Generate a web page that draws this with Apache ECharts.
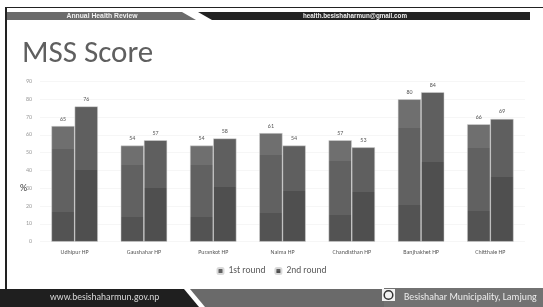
<!DOCTYPE html>
<html>
<head>
<meta charset="utf-8">
<script src="https://cdn.jsdelivr.net/npm/echarts@6/dist/echarts.min.js"></script>
<style>
  html, body { margin: 0; padding: 0; background: #fff; }
  #chart { width: 543px; height: 307px; }
</style>
</head>
<body>
<div id="chart"></div>
<script>
// chart values
const categories = ['Udhipur HP', 'Gaushahar HP', 'Purankot HP', 'Naima HP', 'Chandisthan HP', 'Banjhakhet HP', 'Chitthale HP']
const round1 = [65, 54, 54, 61, 57, 80, 66]
const round2 = [76, 57, 58, 54, 53, 84, 69]
const seriesNames = ['1st round', '2nd round']

const chart = echarts.init(document.getElementById('chart'))

// bars carry a banded fill, like the slide's picture fill
const fill1 = {
    type: 'linear', x: 0, y: 0, x2: 0, y2: 1,
    colorStops: [
        { offset: 0, color: '#6f6f6f' }, { offset: 0.2, color: '#6f6f6f' },
        { offset: 0.2, color: '#616161' }, { offset: 0.74, color: '#616161' },
        { offset: 0.74, color: '#535353' }, { offset: 1, color: '#535353' }
    ]
}
const fill2 = {
    type: 'linear', x: 0, y: 0, x2: 0, y2: 1,
    colorStops: [
        { offset: 0, color: '#5f5f5f' }, { offset: 0.47, color: '#5f5f5f' },
        { offset: 0.47, color: '#4f4f4f' }, { offset: 1, color: '#4f4f4f' }
    ]
}

const font = 'Calibri, Carlito, "Open Sans", sans-serif'

chart.setOption({
    animation: false,
    textStyle: { fontFamily: font },
    grid: { left: 40, right: 18, top: 81.5, bottom: 65.3 },
    legend: {
        data: seriesNames,
        bottom: 26,
        itemWidth: 6,
        itemHeight: 6,
        itemGap: 9,
        textStyle: { fontSize: 9.5, color: '#595959', fontFamily: font }
    },
    xAxis: {
        type: 'category',
        data: categories,
        axisLine: { show: false },
        axisTick: { show: false },
        axisLabel: { fontSize: 6, color: '#595959', margin: 8 }
    },
    yAxis: {
        type: 'value',
        min: 0,
        max: 90,
        interval: 10,
        axisLabel: { fontSize: 6, color: '#9a9a9a', margin: 8 },
        splitLine: { lineStyle: { color: '#f0f0f0', width: 0.6 } }
    },
    series: [
        {
            name: seriesNames[0], type: 'bar', data: round1,
            barGap: '0%', barCategoryGap: '33%',
            itemStyle: { color: fill1, borderColor: '#d9d9d9', borderWidth: 0.5 },
            label: { show: true, position: 'top', fontSize: 6, color: '#595959', distance: 4 }
        },
        {
            name: seriesNames[1], type: 'bar', data: round2,
            itemStyle: { color: fill2, borderColor: '#d9d9d9', borderWidth: 0.5 },
            label: { show: true, position: 'top', fontSize: 6, color: '#595959', distance: 4 }
        }
    ],
    color: ['#626262', '#545454'],
    graphic: [
        // slide frame
        { type: 'rect', shape: { x: 5, y: 7, width: 538, height: 1 }, style: { fill: '#222' } },
        { type: 'rect', shape: { x: 5, y: 7, width: 2, height: 282 }, style: { fill: '#222' } },
        // header
        { type: 'polygon', shape: { points: [[7, 12], [182, 12], [196, 20], [7, 20]] }, style: { fill: '#6b6b6b' } },
        { type: 'polygon', shape: { points: [[198, 12], [530, 12], [530, 20], [212, 20]] }, style: { fill: '#232323' } },
        { type: 'text', x: 102, y: 16, style: { text: 'Annual Health Review', fill: '#f0f0f0', fontSize: 6.8, fontWeight: 'bold', fontFamily: 'Liberation Sans, sans-serif', align: 'center', verticalAlign: 'middle' } },
        { type: 'text', x: 355, y: 16, style: { text: 'health.besishaharmun@gmail.com', fill: '#f0f0f0', fontSize: 6.3, fontWeight: 'bold', fontFamily: 'Liberation Sans, sans-serif', align: 'center', verticalAlign: 'middle' } },
        // title
        { type: 'text', x: 22, y: 54, style: { text: 'MSS Score', fill: '#5f5f5f', fontSize: 31, fontFamily: font, verticalAlign: 'middle' } },
        { type: 'text', x: 20, y: 188, style: { text: '%', fill: '#404040', fontSize: 10, fontFamily: font, verticalAlign: 'middle' } },
        // footer
        { type: 'polygon', shape: { points: [[0, 289], [184, 289], [199, 307], [0, 307]] }, style: { fill: '#1f1f1f' } },
        { type: 'polygon', shape: { points: [[190, 289], [543, 289], [543, 307], [205, 307]] }, style: { fill: '#6a6a6a' } },
        { type: 'rect', shape: { x: 384, y: 288, width: 159, height: 19 }, style: { fill: '#727272' } },
        { type: 'text', x: 50, y: 298, style: { text: 'www.besishaharmun.gov.np', fill: '#d8d8d8', fontSize: 9.5, fontFamily: font, verticalAlign: 'middle' } },
        { type: 'rect', shape: { x: 382, y: 289, width: 13, height: 12 }, style: { fill: '#f2f2f2' } },
        { type: 'circle', shape: { cx: 388.5, cy: 295, r: 4.3 }, style: { fill: 'none', stroke: '#333', lineWidth: 1.5 } },
        { type: 'text', x: 404, y: 298, style: { text: 'Besishahar Municipality, Lamjung', fill: '#ececec', fontSize: 9.8, fontFamily: font, verticalAlign: 'middle' } }
    ]
})
</script>
</body>
</html>
